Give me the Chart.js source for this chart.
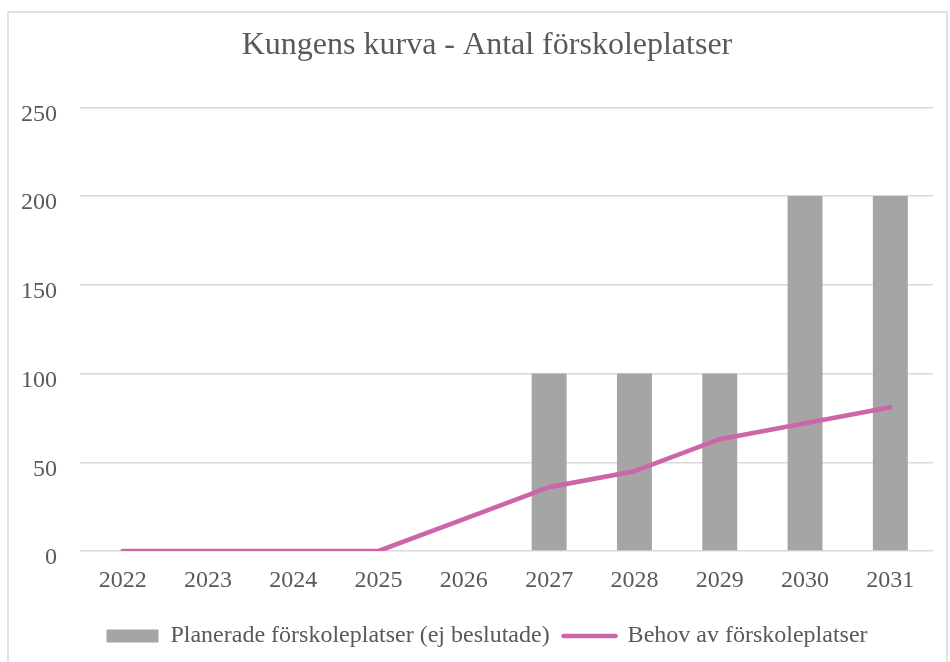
<!DOCTYPE html>
<html>
<head>
<meta charset="utf-8">
<script src="https://cdn.jsdelivr.net/npm/chart.js@4.4.1/dist/chart.umd.min.js"></script>
<style>
  html, body { margin: 0; padding: 0; background: #ffffff; }
  #wrap { position: relative; width: 950px; height: 662px; }
</style>
</head>
<body>
<div id="wrap"><canvas id="c" width="950" height="662"></canvas></div>
<script>
const chartTitle = 'Kungens kurva - Antal förskoleplatser';
const years = ['2022', '2023', '2024', '2025', '2026', '2027', '2028', '2029', '2030', '2031'];
const plannedLabel = 'Planerade förskoleplatser (ej beslutade)';
const plannedPlaces = [0, 0, 0, 0, 0, 100, 100, 100, 200, 200];
const needLabel = 'Behov av förskoleplatser';
const needPlaces = [0, 0, 0, 0, 18, 36, 45, 63, 72, 81];
const yTicks = [0, 50, 100, 150, 200, 250];

const FONT = "'Liberation Serif', 'Times New Roman', serif";
const TEXT = '#595959';
const GRID = '#d9d9d9';
const BAR = '#a5a5a5';
const LINE = '#cd66a8';

const borderPlugin = {
  id: 'outerBorder',
  afterLayout(chart) {
    // centre title and legend within the framed chart area like the original
    if (chart.titleBlock) chart.titleBlock.left = 41;
    if (chart.legend) chart.legend.left = 41;
  },
  beforeDraw(chart) {
    const ctx = chart.ctx;
    ctx.save();
    ctx.fillStyle = '#ffffff';
    ctx.fillRect(0, 0, chart.width, chart.height);
    ctx.strokeStyle = '#d9d9d9';
    ctx.lineWidth = 1.5;
    ctx.strokeRect(8, 12, 939, 660);
    ctx.restore();
  }
};

new Chart(document.getElementById('c'), {
  type: 'bar',
  data: {
    labels: years,
    datasets: [
      {
        type: 'bar',
        label: plannedLabel,
        data: plannedPlaces,
        backgroundColor: BAR,
        borderWidth: 0,
        categoryPercentage: 1,
        barPercentage: 0.41,
        order: 1
      },
      {
        type: 'line',
        label: needLabel,
        data: needPlaces,
        borderColor: LINE,
        backgroundColor: LINE,
        borderWidth: 4.6,
        borderCapStyle: 'round',
        borderJoinStyle: 'round',
        pointRadius: 0,
        pointHoverRadius: 0,
        tension: 0,
        fill: false,
        order: 0
      }
    ]
  },
  options: {
    responsive: false,
    animation: false,
    devicePixelRatio: 1,
    layout: { padding: { top: 0, left: 0, right: 17, bottom: 4 } },
    plugins: {
      tooltip: { enabled: false },
      title: {
        display: true,
        text: chartTitle,
        color: TEXT,
        font: { family: FONT, size: 32, weight: 'normal' },
        padding: { top: 26, bottom: 43 }
      },
      legend: {
        display: true,
        position: 'bottom',
        labels: {
          color: TEXT,
          font: { family: FONT, size: 24 },
          usePointStyle: true,
          pointStyleWidth: 52,
          boxHeight: 13,
          padding: 14,
          generateLabels(chart) {
            const items = Chart.defaults.plugins.legend.labels.generateLabels(chart);
            items.forEach(it => {
              const ds = chart.data.datasets[it.datasetIndex];
              if (ds.type === 'line') {
                it.pointStyle = 'line';
                it.strokeStyle = LINE;
                it.lineWidth = 4.6;
                it.lineCap = 'round';
              } else {
                it.pointStyle = 'rect';
                it.fillStyle = BAR;
                it.strokeStyle = BAR;
                it.lineWidth = 0;
              }
            });
            items.sort((a, b) => a.datasetIndex - b.datasetIndex);
            return items;
          }
        }
      }
    },
    scales: {
      x: {
        grid: { display: false, drawTicks: false },
        border: { display: false },
        ticks: {
          color: TEXT,
          font: { family: FONT, size: 24 },
          padding: 15,
          maxRotation: 0,
          autoSkip: false
        },
        afterFit(scale) { scale.height = 59; }
      },
      y: {
        min: 0,
        max: 250,
        afterBuildTicks(scale) { scale.ticks = yTicks.map(v => ({ value: v })); },
        grid: { color: GRID, lineWidth: 1.5, drawTicks: false },
        border: { display: false },
        ticks: {
          color: TEXT,
          font: { family: FONT, size: 24 },
          padding: 23,
          labelOffset: 7
        },
        afterFit(scale) { scale.width = 80; }
      }
    }
  },
  plugins: [borderPlugin]
});
</script>
</body>
</html>
